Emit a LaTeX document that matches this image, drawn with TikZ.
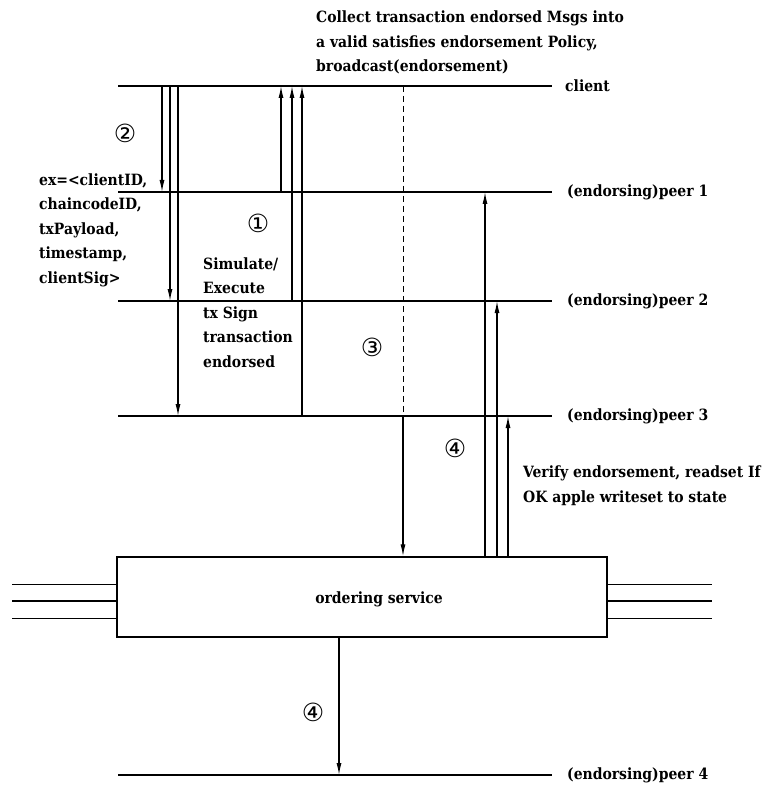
\documentclass[tikz,border=0pt]{standalone}
\usepackage{fontspec}
\setmainfont{DejaVu Serif Condensed}
\newfontfamily\circfont{DejaVu Sans}
\usetikzlibrary{arrows.meta,calc,positioning}
\tikzset{
	lane/.style={line width=1.4pt},
	msg/.style={line width=1.2pt, -{Latex[length=12pt,width=5pt]}},
	lanename/.style={inner sep=0pt, font=\bfseries\fontsize{15.5}{15.5}\selectfont},
	note/.style={inner sep=0pt, align=left, anchor=base west,
		font=\bfseries\fontsize{15.5}{24.5}\selectfont},
	stepno/.style={inner sep=0pt, font=\circfont\fontsize{25}{25}\selectfont},
}

\begin{document}
\begin{tikzpicture}[x=1pt,y=-1pt]
	\useasboundingbox (0,0) rectangle (779,794);
	% lanes
	\foreach \n/\y in {client/86,peer1/192,peer2/301,peer3/416,peer4/775}{
		\coordinate (\n) at (118,\y);
		\coordinate (\n-e) at (552,\y);
		\draw[lane] (\n) -- (\n-e);
	}
	\node[lanename, right=13pt of client-e] (client-name) {client};
	\node[lanename, right=15pt of peer1-e] (peer1-name) {(endorsing)peer 1};
	\node[lanename, right=15pt of peer2-e] (peer2-name) {(endorsing)peer 2};
	\node[lanename, right=15pt of peer3-e] (peer3-name) {(endorsing)peer 3};
	\node[lanename, right=15pt of peer4-e] (peer4-name) {(endorsing)peer 4};

	% ordering service
	\node[draw, lane, minimum width=490pt, minimum height=80pt, inner sep=0pt]
		(orderer) at (362,597) {};
	\node[lanename] (orderer-name) at (379,599) {ordering service};
	\foreach \dy/\w in {-13/1pt,4/1.6pt,21/1pt}{
		\draw[line width=\w] ($(orderer.west)+(0,\dy)$) -- +(-104,0);
		\draw[line width=\w] ($(orderer.east)+(0,\dy)$) -- +(104,0);
	}

	% broadcast to orderer
	\coordinate (collect) at (403,0 |- client);
	\draw[line width=1pt, dash pattern=on 6pt off 4pt] (collect) -- (collect |- peer3);
	\draw[msg] (collect |- peer3) -- (collect |- orderer.north);

	% proposals and endorsements
	\foreach \x/\p in {162/peer1,170/peer2,178/peer3}
		\draw[msg] (\x,0 |- client) -- (\x,0 |- \p);
	\foreach \x/\p in {281/peer1,292/peer2,302/peer3}
		\draw[msg] (\x,0 |- \p) -- (\x,0 |- client);

	% delivery
	\foreach \x/\p in {485/peer1,497/peer2,508/peer3}
		\draw[msg] (\x,0 |- orderer.north) -- (\x,0 |- \p);
	\draw[msg] (339,0 |- orderer.south) -- (339,0 |- peer4);

	% notes (placed by their last baseline)
	\node[note] (collect-note) at (316,72)
		{Collect transaction endorsed Msgs into\\a valid satisfies endorsement Policy,\\broadcast(endorsement)};
	\node[note] (proposal-note) at (39,283)
		{ex=<clientID,\\chaincodeID,\\txPayload,\\timestamp,\\clientSig>};
	\node[note] (simulate-note) at (203,367)
		{Simulate/\\Execute\\tx Sign\\transaction\\endorsed};
	\node[note] (verify-note) at (523,502)
		{Verify endorsement, readset If\\OK apple writeset to state};

	% steps
	\node[stepno] (step1) at (258,223) {①};
	\node[stepno] (step2) at (125,133) {②};
	\node[stepno] (step3) at (372,347) {③};
	\node[stepno] (step4a) at (455,448) {④};
	\node[stepno] (step4b) at (313,712) {④};
\end{tikzpicture}
\end{document}
